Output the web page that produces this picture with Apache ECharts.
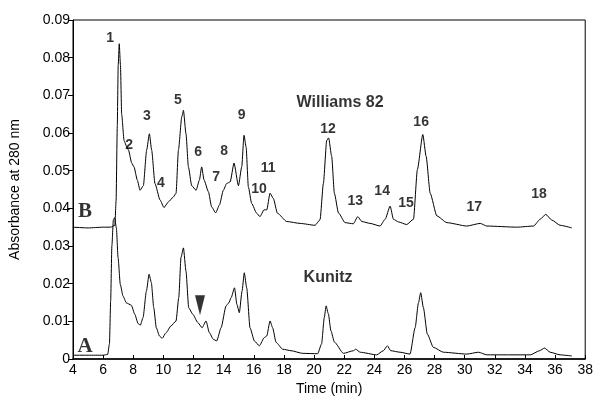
<!DOCTYPE html>
<html><head><meta charset="utf-8">
<script src="https://cdn.jsdelivr.net/npm/echarts@6/dist/echarts.min.js"></script>
<style>html,body{margin:0;padding:0;background:#fff}#c{width:596px;height:401px}</style>
</head><body><div id="c"></div>
<script>
// Trace B: Williams 82
const timesB = [4,5,6,6.5,6.78,6.86,6.94,7.0,7.07,7.15,7.23,7.39,7.55,7.68,7.9,8.05,8.27,8.45,8.67,8.89,9.07,9.22,9.44,9.78,10.04,10.33,10.66,10.84,11.0,11.22,11.33,11.5,11.66,11.88,12.17,12.39,12.54,12.7,12.99,13.2,13.47,13.72,13.98,14.2,14.43,14.69,14.98,15.2,15.35,15.49,15.64,15.86,16.19,16.41,16.68,16.86,17.08,17.3,17.57,18.19,19.07,20.07,20.4,20.62,20.84,20.97,21.17,21.35,21.62,22.06,22.61,22.9,23.17,23.72,24.38,24.72,25.05,25.27,25.6,26.15,26.6,26.86,27.22,27.44,27.71,28.15,28.82,30.14,31.03,31.47,33.46,34.57,35.01,35.38,35.78,36.33,37.11];
const valuesB = [0.035,0.0348,0.035,0.035,0.0355,0.042,0.062,0.078,0.0837,0.078,0.065,0.058,0.0565,0.0555,0.052,0.051,0.0475,0.0448,0.046,0.0555,0.0598,0.0555,0.0466,0.0422,0.0402,0.0417,0.043,0.044,0.0555,0.0643,0.066,0.0598,0.051,0.046,0.0448,0.0475,0.051,0.0475,0.0444,0.0404,0.0388,0.0409,0.0448,0.0466,0.047,0.052,0.046,0.051,0.0594,0.0563,0.0457,0.0413,0.0387,0.0378,0.0396,0.0396,0.044,0.0426,0.0387,0.0365,0.036,0.0355,0.037,0.0466,0.058,0.0587,0.0538,0.044,0.0388,0.0362,0.0359,0.0378,0.0365,0.036,0.0353,0.0371,0.0406,0.0371,0.0364,0.0357,0.0371,0.0503,0.0596,0.0538,0.044,0.038,0.0362,0.0353,0.036,0.0353,0.035,0.0353,0.0371,0.0384,0.0369,0.0355,0.0348];
// Trace A: Kunitz
const timesA = [4,5,6,6.3,6.42,6.5,6.58,6.68,6.76,6.88,6.99,7.14,7.32,7.54,7.87,8.1,8.32,8.47,8.65,8.87,9.05,9.2,9.36,9.53,9.74,9.92,10.18,10.51,10.84,11.02,11.17,11.33,11.5,11.68,11.95,12.28,12.57,12.83,13.05,13.32,13.54,13.83,14.16,14.34,14.5,14.72,14.88,15.04,15.22,15.37,15.53,15.75,16.04,16.37,16.7,16.86,17.08,17.25,17.48,17.92,18.47,19.25,20.24,20.5,20.68,20.8,20.95,21.12,21.35,21.95,22.61,22.77,23.06,24.16,24.6,24.87,25.09,25.71,26.37,26.71,26.93,27.08,27.26,27.52,27.92,28.58,30.14,30.92,31.47,34.35,34.97,35.3,35.67,36.33,37.11];
const valuesA = [0.001,0.001,0.001,0.0012,0.004,0.0154,0.03,0.037,0.0375,0.0348,0.027,0.0198,0.0167,0.0149,0.0143,0.0119,0.0094,0.009,0.011,0.018,0.0225,0.0203,0.0136,0.0083,0.0061,0.0055,0.007,0.0088,0.0101,0.0163,0.027,0.0295,0.0233,0.0136,0.0119,0.0097,0.0083,0.0101,0.007,0.0052,0.0048,0.0083,0.0141,0.0149,0.0163,0.0189,0.0145,0.0123,0.018,0.0229,0.0189,0.0083,0.0048,0.0035,0.0057,0.0061,0.0101,0.0083,0.0044,0.0026,0.0022,0.0015,0.0014,0.004,0.011,0.0141,0.012,0.0075,0.0045,0.0015,0.0022,0.0026,0.0018,0.0011,0.0022,0.0035,0.0022,0.0018,0.0013,0.0083,0.0149,0.0176,0.0136,0.0066,0.0031,0.0018,0.0013,0.0018,0.0011,0.0011,0.0022,0.0029,0.0018,0.0011,0.0008];
// Peak number labels (text, time, absorbance)
const peakLabels = ['1','2','3','4','5','6','7','8','9','10','11','12','13','14','15','16','17','18'];
const peakLabelT = [6.46,7.72,8.91,9.84,10.97,12.3,13.5,14.03,15.2,16.35,16.95,20.93,22.73,24.52,26.11,27.11,30.63,34.94];
const peakLabelV = [0.0852,0.0569,0.0646,0.0466,0.0688,0.0548,0.0482,0.0551,0.0648,0.045,0.0506,0.0609,0.0418,0.0445,0.0413,0.063,0.0402,0.0437];
// Trace names
const traceNames = ['Williams 82','Kunitz'];
const traceNameT = [21.73,20.93];
const traceNameV = [0.068,0.0217];
const traceLetters = ['B','A'];
const traceLetterT = [4.8,4.8];
const traceLetterV = [0.0392,0.0034];
// Arrow marker
const arrowT = [12.43];
const arrowV = [0.0143];

const zip = (t,v)=>t.map((x,i)=>[x,v[i]]);
const chart = echarts.init(document.getElementById('c'));
const lineStyle = {color:'#000', width:1};
const font = 'Liberation Sans';
chart.setOption({
  animation:false,
  grid:{left:73,right:10,top:20,bottom:41,show:true,borderColor:'#000',borderWidth:1},
  xAxis:{type:'value',min:4,max:38,interval:2,
    name:'Time (min)',nameLocation:'middle',nameGap:23,
    nameTextStyle:{color:'#000',fontSize:14,fontFamily:font},
    axisLine:{lineStyle:{color:'#000',width:1.5}},
    axisTick:{inside:true,length:4,lineStyle:{color:'#000'}},
    axisLabel:{color:'#000',fontSize:14,fontFamily:font,margin:4},
    splitLine:{show:false}},
  yAxis:{type:'value',min:0,max:0.09,interval:0.01,
    name:'Absorbance at 280 nm',nameLocation:'middle',nameGap:51,
    nameTextStyle:{color:'#000',fontSize:14,fontFamily:font},
    axisLine:{lineStyle:{color:'#000',width:1}},
    axisTick:{inside:false,length:5,lineStyle:{color:'#000'}},
    axisLabel:{color:'#000',fontSize:14,fontFamily:font,margin:3,
      formatter:v=>v===0?'0':v.toFixed(2)},
    splitLine:{show:false}},
  series:[
    {type:'line',data:zip(timesB,valuesB),showSymbol:false,smooth:0.2,smoothMonotone:'x',lineStyle},
    {type:'line',data:zip(timesA,valuesA),showSymbol:false,smooth:0.2,smoothMonotone:'x',lineStyle},
    {type:'scatter',symbolSize:0,silent:true,
      data:peakLabels.map((s,i)=>({value:[peakLabelT[i],peakLabelV[i]],name:s})),
      label:{show:true,position:'inside',formatter:p=>p.name,color:'#000',fontSize:14,fontWeight:'bold',fontFamily:font}},
    {type:'scatter',symbolSize:0,silent:true,
      data:traceNames.map((s,i)=>({value:[traceNameT[i],traceNameV[i]],name:s})),
      label:{show:true,position:'inside',formatter:p=>p.name,color:'#000',fontSize:16,fontWeight:'bold',fontFamily:font}},
    {type:'scatter',symbolSize:0,silent:true,
      data:traceLetters.map((s,i)=>({value:[traceLetterT[i],traceLetterV[i]],name:s})),
      label:{show:true,position:'inside',formatter:p=>p.name,color:'#000',fontSize:21,fontWeight:'bold',fontFamily:'Liberation Serif'}},
    {type:'scatter',silent:true,symbol:'triangle',symbolRotate:180,symbolSize:[10,20],
      itemStyle:{color:'#000'},data:zip(arrowT,arrowV)}
  ]
});
</script></body></html>
